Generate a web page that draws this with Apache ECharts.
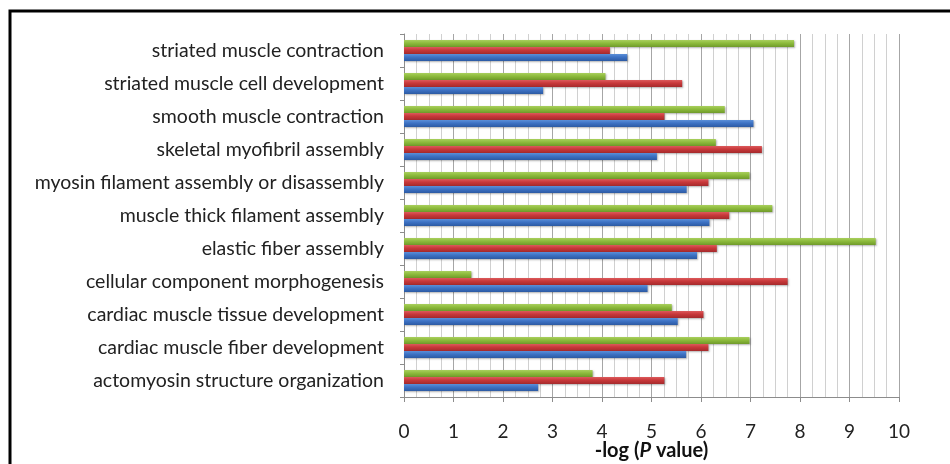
<!DOCTYPE html>
<html>
<head>
<meta charset="utf-8">
<style>
  html, body { margin: 0; padding: 0; background: #fff; }
  #chart { width: 950px; height: 464px; }
</style>
</head>
<body>
<div id="chart"></div>
<script src="https://cdn.jsdelivr.net/npm/echarts@6/dist/echarts.min.js"></script>
<script>
// categories, top to bottom as they appear
var categories = [
  'striated muscle contraction',
  'striated muscle cell development',
  'smooth muscle contraction',
  'skeletal myofibril assembly',
  'myosin filament assembly or disassembly',
  'muscle thick filament assembly',
  'elastic fiber assembly',
  'cellular component morphogenesis',
  'cardiac muscle tissue development',
  'cardiac muscle fiber development',
  'actomyosin structure organization'
];

// -log(P value)
var greenVals = [7.88, 4.07, 6.48, 6.30, 6.98, 7.44, 9.53, 1.36, 5.41, 6.98, 3.81];
var redVals   = [4.16, 5.62, 5.26, 7.23, 6.15, 6.57, 6.32, 7.75, 6.05, 6.15, 5.26];
var blueVals  = [4.51, 2.81, 7.06, 5.11, 5.71, 6.17, 5.92, 4.92, 5.53, 5.70, 2.71];

var xTicks = [0, 1, 2, 3, 4, 5, 6, 7, 8, 9, 10];

function shade(top, mid, bottom) {
  return new echarts.graphic.LinearGradient(0, 0, 0, 1, [
    { offset: 0, color: top },
    { offset: 0.45, color: mid },
    { offset: 1, color: bottom }
  ]);
}

function barSeries(name, data, top, mid, bottom) {
  return {
    name: name,
    type: 'bar',
    data: data,
    barWidth: 7,
    barGap: '0%',
    itemStyle: {
      color: shade(top, mid, bottom),
      shadowColor: 'rgba(0,0,0,0.3)',
      shadowBlur: 2,
      shadowOffsetX: 1,
      shadowOffsetY: 1
    }
  };
}

var chart = echarts.init(document.getElementById('chart'));

var option = {
  animation: false,
  backgroundColor: '#fff',
  textStyle: { fontFamily: 'Lato' },
  grid: { left: 404, right: 51, top: 34, bottom: 67, containLabel: false, outerBoundsMode: 'none' },
  graphic: [{
    type: 'rect',
    shape: { x: 10, y: 11, width: 1000, height: 500 },
    style: { fill: 'none', stroke: '#000', lineWidth: 3 },
    z: 100
  }],
  xAxis: {
    type: 'value',
    min: 0,
    max: 10,
    interval: 1,
    name: '{a|-log (}{b|P}{a| value)}',
    nameLocation: 'middle',
    nameGap: 44,
    nameMoveOverlap: false,
    nameTextStyle: {
      rich: {
        a: { fontSize: 20, fontWeight: 'bold', color: '#111', fontFamily: 'Lato' },
        b: { fontSize: 20, fontWeight: 'bold', fontStyle: 'italic', color: '#111', fontFamily: 'Lato' }
      }
    },
    axisLine: { show: true, lineStyle: { color: '#8c8c8c', width: 1 } },
    axisTick: { show: true, length: 5, lineStyle: { color: '#8c8c8c' } },
    axisLabel: {
      margin: 25,
      fontSize: 19,
      color: '#222',
      formatter: function (v) { return xTicks.indexOf(v) >= 0 ? String(v) : ''; }
    },
    splitLine: { show: true, lineStyle: { color: '#a6a6a6', width: 1 } },
    minorTick: { show: false, splitNumber: 4 },
    minorSplitLine: { show: true, lineStyle: { color: '#d0d0d0', width: 1 } }
  },
  yAxis: {
    type: 'category',
    data: categories,
    inverse: true,
    axisLine: { show: true, lineStyle: { color: '#8c8c8c', width: 1 } },
    axisTick: { show: true, length: 4, alignWithLabel: false, lineStyle: { color: '#8c8c8c' } },
    axisLabel: { margin: 20, fontSize: 19.5, color: '#222' },
    splitLine: { show: false }
  },
  series: [
    barSeries('green', greenVals, '#a9cf5e', '#8dbb3c', '#6f9a2a'),
    barSeries('red', redVals, '#dc5a5c', '#c8383a', '#a52a2c'),
    barSeries('blue', blueVals, '#5b8fd8', '#3d72c4', '#2c5aa3')
  ]
};

chart.setOption(option);
</script>
</body>
</html>
